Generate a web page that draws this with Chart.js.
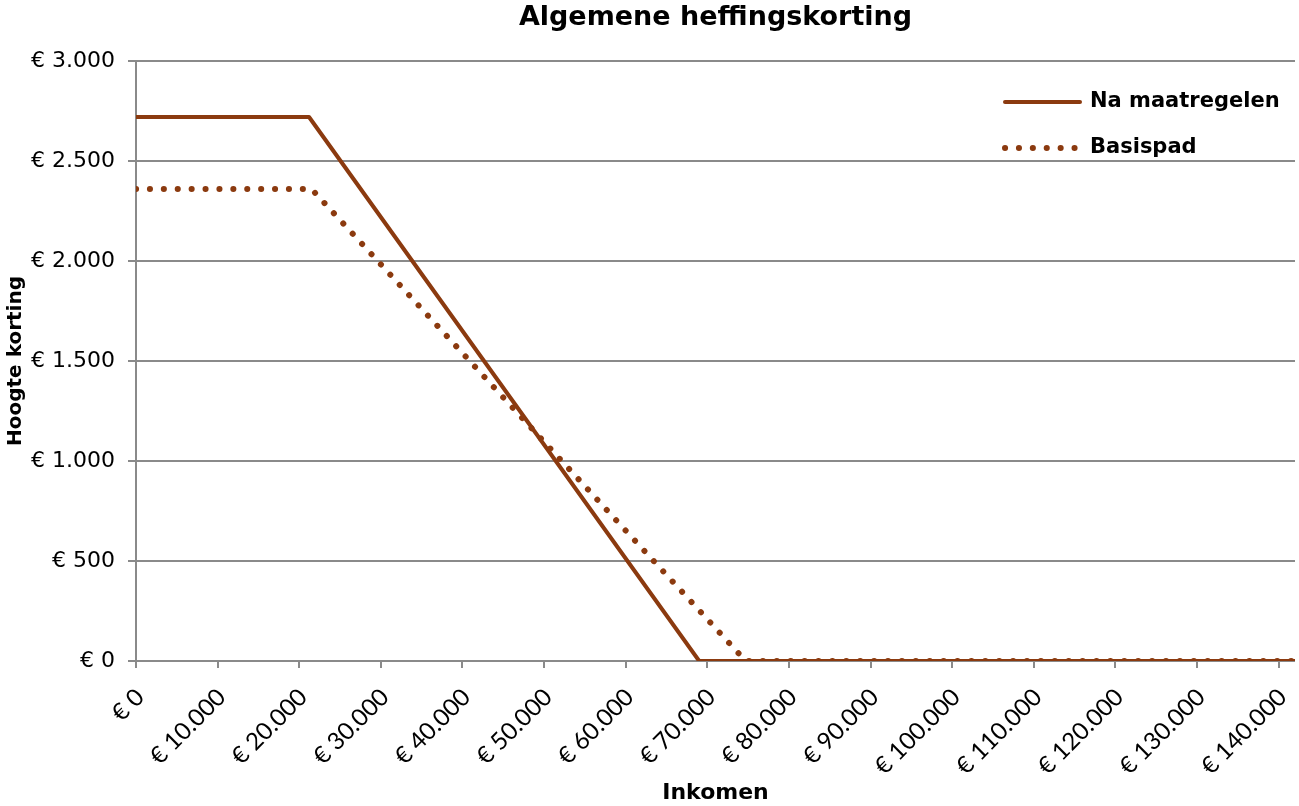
<!DOCTYPE html>
<html>
<head>
<meta charset="utf-8">
<script src="https://cdn.jsdelivr.net/npm/chart.js@4/dist/chart.umd.min.js"></script>
<style>
  body { margin: 0; background: #fff; }
  #wrap { width: 1299px; height: 806px; }
</style>
</head>
<body>
<div id="wrap"><canvas id="chart" width="1299" height="806"></canvas></div>
<script>
// inkomen (x) en hoogte korting (y) per reeks
const incomeNa = [0, 21200, 69000, 142000];
const kortingNa = [2720, 2720, 0, 0];
const incomeBasis = [0, 21500, 74700, 142000];
const kortingBasis = [2360, 2360, 0, 0];

const xTickValues = [0, 10000, 20000, 30000, 40000, 50000, 60000, 70000,
    80000, 90000, 100000, 110000, 120000, 130000, 140000];
const yTickValues = [0, 500, 1000, 1500, 2000, 2500, 3000];

const seriesLabels = ["Na maatregelen", "Basispad"];
const chartTitle = "Algemene heffingskorting";
const xTitle = "Inkomen";
const yTitle = "Hoogte korting";

const brown = "#8b3a0f";
const gridGray = "#8a8a8a";
const font = "'DejaVu Sans', Verdana, sans-serif";
const xTickFont = "Lato, 'DejaVu Sans', sans-serif";

function euro(v) {
    return "€ " + String(Math.round(v)).replace(/\B(?=(\d{3})+(?!\d))/g, ".");
}

function toPoints(xs, ys) {
    return xs.map((x, i) => ({ x: x, y: ys[i] }));
}

// titel gecentreerd boven het plotgebied
const titlePlugin = {
    id: "plotTitle",
    afterDraw(chart) {
        const { ctx, chartArea } = chart;
        ctx.save();
        ctx.font = "bold 27px " + font;
        ctx.fillStyle = "#000";
        ctx.textAlign = "center";
        ctx.textBaseline = "middle";
        ctx.fillText(chartTitle, (chartArea.left + chartArea.right) / 2, 18);
        ctx.restore();
    }
};

// legenda binnen het plotgebied, rechtsboven
const legendPlugin = {
    id: "innerLegend",
    afterDatasetsDraw(chart) {
        const { ctx, chartArea } = chart;
        const x0 = chartArea.right - 292;
        ctx.save();
        chart.data.datasets.forEach((ds, i) => {
            const y = chartArea.top + 41 + i * 46;
            ctx.strokeStyle = ds.borderColor;
            ctx.lineWidth = ds.borderWidth;
            ctx.lineCap = ds.borderCapStyle || "butt";
            ctx.setLineDash(ds.borderDash || []);
            ctx.beginPath();
            ctx.moveTo(x0 + 2, y);
            ctx.lineTo(x0 + 77, y);
            ctx.stroke();
            ctx.setLineDash([]);
            ctx.fillStyle = "#000";
            ctx.font = "bold 21px " + font;
            ctx.textAlign = "left";
            ctx.textBaseline = "middle";
            ctx.fillText(ds.label, x0 + 87, y);
        });
        ctx.restore();
    }
};

new Chart(document.getElementById("chart"), {
    type: "line",
    data: {
        datasets: [
            {
                label: seriesLabels[0],
                data: toPoints(incomeNa, kortingNa),
                borderColor: brown,
                borderWidth: 4,
                borderCapStyle: "round",
                borderJoinStyle: "round",
                pointRadius: 0,
                fill: false,
                order: 2
            },
            {
                label: seriesLabels[1],
                data: toPoints(incomeBasis, kortingBasis),
                borderColor: brown,
                borderWidth: 6,
                borderDash: [0.1, 13.8],
                borderCapStyle: "round",
                pointRadius: 0,
                fill: false,
                order: 1
            }
        ]
    },
    options: {
        responsive: false,
        animation: false,
        devicePixelRatio: 1,
        layout: { padding: { top: 61, right: 4, left: 0, bottom: 0 } },
        plugins: {
            legend: { display: false },
            title: { display: false },
            tooltip: { enabled: false }
        },
        scales: {
            x: {
                type: "linear",
                min: 0,
                max: 142000,
                afterBuildTicks(scale) {
                    scale.ticks = xTickValues.map((v) => ({ value: v }));
                },
                afterFit(scale) {
                    scale.height = 145;
                    scale.paddingRight = 0;
                    scale.paddingLeft = 0;
                },
                border: { display: false },
                grid: {
                    drawOnChartArea: false,
                    drawTicks: true,
                    tickLength: 7,
                    color: gridGray,
                    lineWidth: 2
                },
                ticks: {
                    autoSkip: false,
                    minRotation: 45,
                    maxRotation: 45,
                    padding: 15,
                    labelOffset: 4,
                    color: "#000",
                    font: { family: xTickFont, size: 24 },
                    callback: (v) => euro(v)
                },
                title: {
                    display: true,
                    text: xTitle,
                    color: "#000",
                    font: { family: font, size: 22, weight: "bold" },
                    padding: { top: 4, bottom: 0 }
                }
            },
            y: {
                min: 0,
                max: 3000,
                afterBuildTicks(scale) {
                    scale.ticks = yTickValues.map((v) => ({ value: v }));
                },
                afterFit(scale) { scale.width = 136; },
                border: { display: true, color: gridGray, width: 2 },
                grid: {
                    color: gridGray,
                    lineWidth: 2,
                    drawTicks: true,
                    tickLength: 8
                },
                ticks: {
                    padding: 13,
                    color: "#000",
                    font: { family: font, size: 22 },
                    callback: (v) => euro(v)
                },
                title: {
                    display: true,
                    text: yTitle,
                    color: "#000",
                    font: { family: font, size: 20, weight: "bold" },
                    padding: { top: 4, bottom: 4 }
                }
            }
        }
    },
    plugins: [titlePlugin, legendPlugin]
});
</script>
</body>
</html>
